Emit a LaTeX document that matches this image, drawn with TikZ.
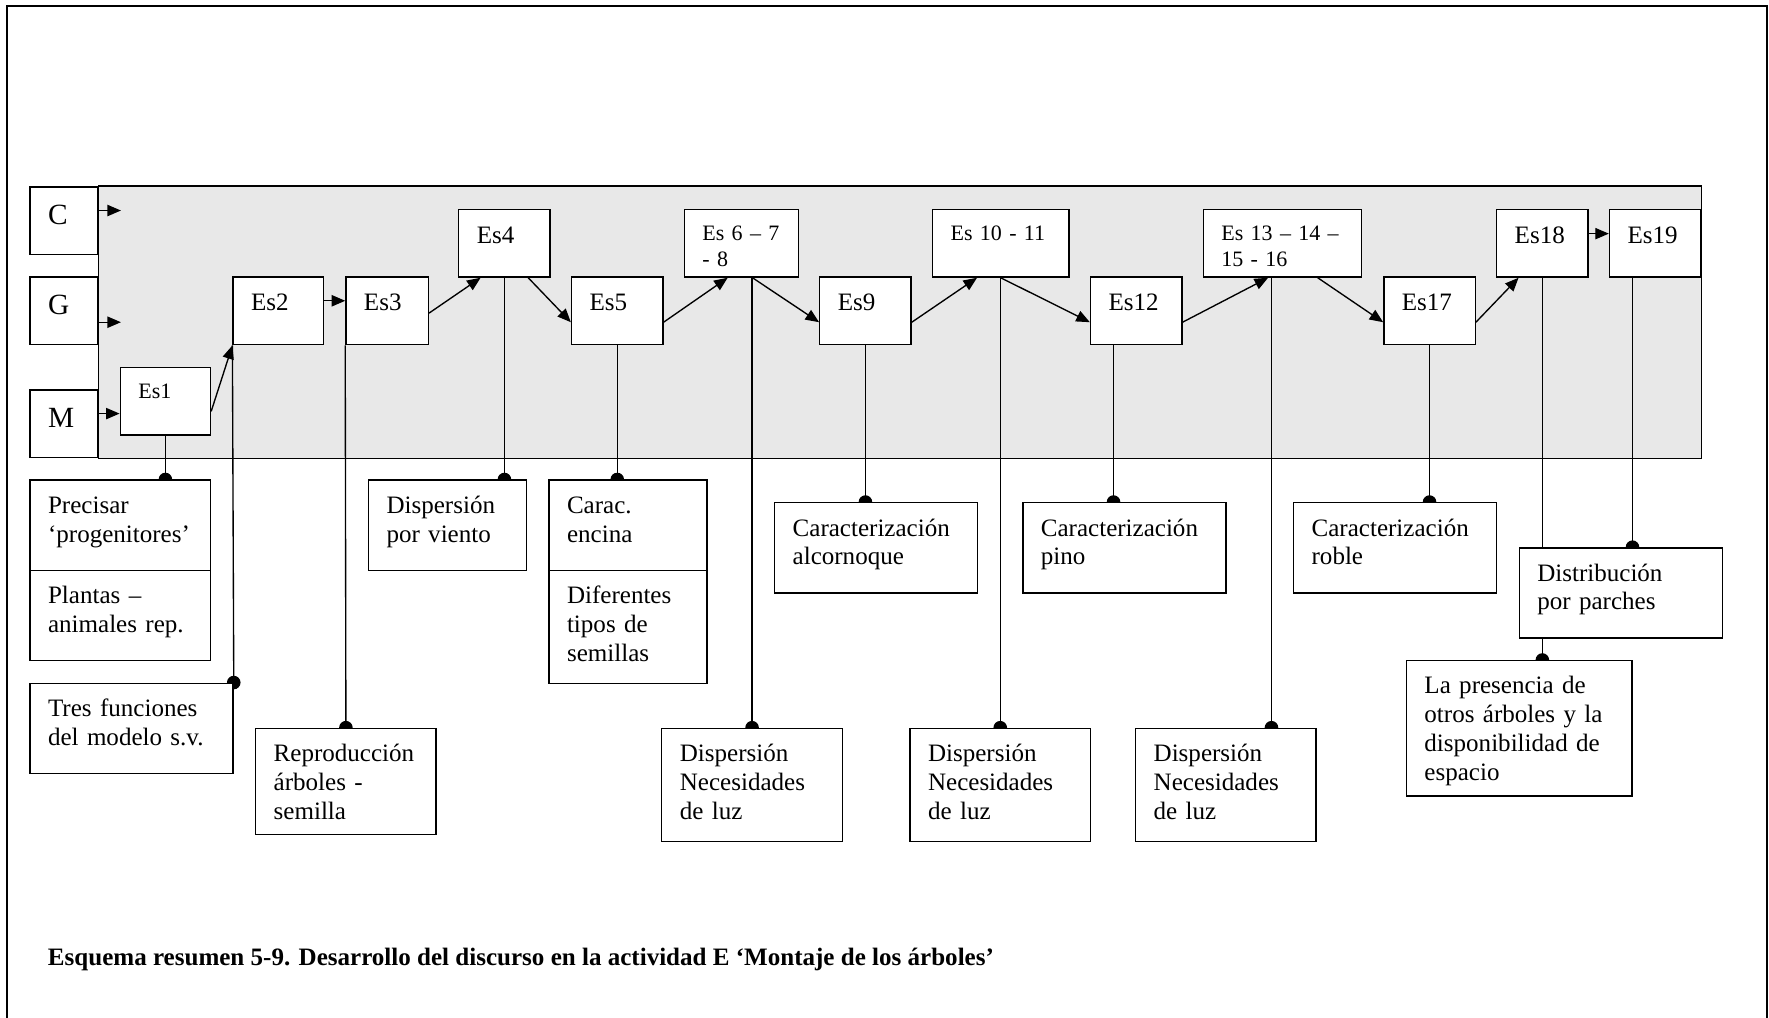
\documentclass[tikz,border=0pt]{standalone}
\usepackage{fontspec}
\setmainfont{Liberation Serif}
\usetikzlibrary{arrows.meta,backgrounds}

\tikzset{
  basebox/.style n args={3}{draw, fill=white, line width=1.2pt, anchor=north west,
    inner xsep=16pt, inner ysep=0pt, align=left,
    text width=#1pt-32pt, text height=#3pt, text depth=#2pt-#3pt},
  notebox/.style 2 args={basebox={#1}{#2}{29.5}, font=\fontsize{22.2pt}{25.5pt}\selectfont},
  stagebox/.style={basebox={#1}{60}{30}, font=\fontsize{22.2pt}{25.5pt}\selectfont},
  stagesmall/.style={basebox={#1}{60}{28}, font=\fontsize{19.5pt}{23pt}\selectfont},
  rolebox/.style={basebox={60}{60}{33.5}, font=\fontsize{26pt}{30pt}\selectfont},
  arr/.style={line width=1.2pt, -{Triangle[length=12pt, width=10pt]}},
  dotline/.style={line width=1.2pt, -{Circle[length=12pt]}, shorten >=-6pt}
}

\begin{document}
\begin{tikzpicture}[x=1pt, y=-1pt]
  \useasboundingbox (0,0) rectangle (1568,902);

  % Outer frame, open at the bottom
  \draw[line width=1.6pt] (6,902) -- (6,5) -- (1566.5,5) -- (1566.5,902);

  % Roles
  \node[rolebox] (c) at (26,165) {C};
  \node[rolebox] (g) at (26,245) {G};
  \node[rolebox] (m) at (26,345) {M};

  % Stages of the discourse
  \node[stagesmall={80}]  (es1)    at (106,325)  {Es1};
  \node[stagebox={80}]    (es2)    at (206,245)  {Es2};
  \node[stagebox={73}]    (es3)    at (306,245)  {Es3};
  \node[stagebox={81}]    (es4)    at (406,185)  {Es4};
  \node[stagebox={81}]    (es5)    at (506,245)  {Es5};
  \node[stagesmall={101}] (es678)  at (606,185)  {Es 6 -- 7\\- 8};
  \node[stagebox={81}]    (es9)    at (726,245)  {Es9};
  \node[stagesmall={121}] (es1011) at (826,185)  {Es 10 - 11};
  \node[stagebox={81}]    (es12)   at (966,245)  {Es12};
  \node[stagesmall={140}] (es1316) at (1066,185) {Es 13 -- 14 --\\15 - 16};
  \node[stagebox={81}]    (es17)   at (1226,245) {Es17};
  \node[stagebox={81}]    (es18)   at (1326,185) {Es18};
  \node[stagebox={81}]    (es19)   at (1426,185) {Es19};

  % Contents
  \node[notebox={160}{80}]  (n1)  at (26,425)   {Precisar\\‘progenitores’};
  \node[notebox={160}{80}]  (n2)  at (26,505)   {Plantas --\\animales rep.};
  \node[notebox={180}{80}]  (n3)  at (26,605)   {Tres funciones\\del modelo s.v.};
  \node[notebox={160}{94}]  (n4)  at (226,645)  {Reproducción\\árboles -\\semilla};
  \node[notebox={140}{80}]  (n5)  at (326,425)  {Dispersión\\por viento};
  \node[notebox={140}{80}]  (n6)  at (486,425)  {Carac.\\encina};
  \node[notebox={140}{100}] (n7)  at (486,505)  {Diferentes\\tipos de\\semillas};
  \node[notebox={180}{80}]  (n8)  at (686,445)  {Caracterización\\alcornoque};
  \node[notebox={160}{100}] (n9)  at (586,645)  {Dispersión\\Necesidades\\de luz};
  \node[notebox={180}{80}]  (n10) at (906,445)  {Caracterización\\pino};
  \node[notebox={160}{100}] (n11) at (806,645)  {Dispersión\\Necesidades\\de luz};
  \node[notebox={180}{80}]  (n12) at (1146,445) {Caracterización\\roble};
  \node[notebox={160}{100}] (n13) at (1006,645) {Dispersión\\Necesidades\\de luz};
  \node[notebox={180}{80}]  (n14) at (1346,485) {Distribución\\por parches};
  \node[notebox={200}{120}] (n15) at (1246,585) {La presencia de\\otros árboles y la\\disponibilidad de\\espacio};

  \coordinate (t12)   at ([xshift=21pt]es12.south west);
  \coordinate (t1316) at ([xshift=61pt]es1316.south west);
  \coordinate (t19)   at ([xshift=21pt]es19.south west);

  \begin{scope}[on background layer]
    % Shaded band
    \draw[line width=1.2pt, fill=black!9] (c.north east) rectangle (es19.north east |- m.south east);

    % Stage to content links
    \draw[dotline] (es1.south) -- (es1.south |- n1.north);
    \draw[dotline] (es2.south west) -- (n3.north east);
    \draw[dotline] (es3.south west) -- (n4.north);
    \draw[dotline] (es4.south) -- (es4.south |- n5.north);
    \draw[dotline] (es5.south) -- (es5.south |- n6.north);
    \draw[dotline] (n9.north |- es678.south) -- (n9.north);
    \draw[dotline] (es9.south) -- (es9.south |- n8.north);
    \draw[dotline] (n11.north |- es1011.south) -- (n11.north);
    \draw[dotline] (t12) -- (t12 |- n10.north);
    \draw[dotline] (t1316) -- (t1316 |- n13.north);
    \draw[dotline] (es17.south) -- (es17.south |- n12.north);
    \draw[dotline] (es18.south) -- (es18.south |- n15.north);
    \draw[dotline] (t19) -- (t19 |- n14.north);
  \end{scope}

  % Role arrows
  \draw[arr] ([yshift=9pt]c.east) -- ++(20,0);
  \draw[arr] ([yshift=-10pt]g.east) -- ++(20,0);
  \draw[arr] ([yshift=9pt]m.east) -- ([yshift=-11pt]es1.west);

  % Sequence of stages
  \draw[arr] ([yshift=-9pt]es1.east) -- (es2.south west);
  \draw[arr] ([yshift=9pt]es2.east) -- ([yshift=9pt]es3.west);
  \draw[arr] ([yshift=-2pt]es3.east) -- ([xshift=20pt]es4.south west);
  \draw[arr] ([xshift=-20pt]es4.south east) -- ([yshift=-10pt]es5.west);
  \draw[arr] ([yshift=-10pt]es5.east) -- ([xshift=39pt]es678.south west);
  \draw[arr] ([xshift=61pt]es678.south west) -- ([yshift=-10pt]es9.west);
  \draw[arr] ([yshift=-10pt]es9.east) -- ([xshift=40pt]es1011.south west);
  \draw[arr] ([xshift=61pt]es1011.south west) -- ([yshift=-10pt]es12.west);
  \draw[arr] ([yshift=-10pt]es12.east) -- ([xshift=58pt]es1316.south west);
  \draw[arr] ([xshift=102pt]es1316.south west) -- ([yshift=-10pt]es17.west);
  \draw[arr] ([yshift=-10pt]es17.east) -- ([xshift=20pt]es18.south west);
  \draw[arr] ([yshift=8.5pt]es18.east) -- ([yshift=8.5pt]es19.west);

  % Caption
  \node[anchor=base west, font=\bfseries\fontsize{22.2pt}{25.5pt}\selectfont] (caption) at (39,856)
    {Esquema resumen 5-9. Desarrollo del discurso en la actividad E ‘Montaje de los árboles’};
\end{tikzpicture}
\end{document}
